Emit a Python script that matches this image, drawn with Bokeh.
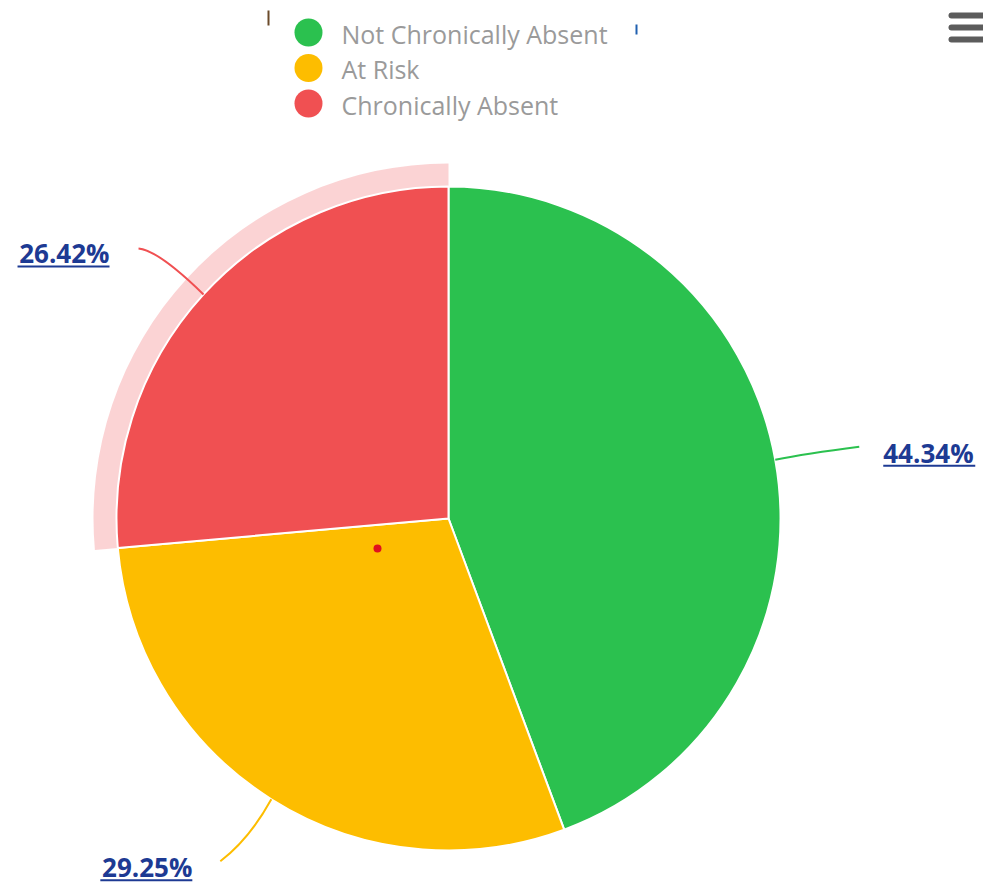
import math
from bokeh.plotting import figure
from bokeh.models import Range1d
from bokeh.core.properties import value
from bokeh.embed import file_html
from bokeh.resources import INLINE

# ---- data ----
categories = ["Not Chronically Absent", "At Risk", "Chronically Absent"]
percents = [44.34, 29.25, 26.42]
labels = ["44.34%", "29.25%", "26.42%"]
colors = ["#2BC14F", "#FDBD00", "#F05052"]

# ---- layout (screen px; page = 983 x 885) ----
W, H = 983, 885
CX, CY, R = 448, 518, 332
HALO = 23

def Y(s):
    return H - s

p = figure(width=W, height=H, output_backend="svg", toolbar_location=None,
           x_range=Range1d(0, W), y_range=Range1d(0, H),
           x_axis_location=None, y_axis_location=None, min_border=0)
p.grid.visible = False
p.outline_line_color = None
p.background_fill_color = "white"
p.border_fill_color = "white"

total = sum(percents)
cum = 0.0
mids = []
for i, (pct, col) in enumerate(zip(percents, colors)):
    t0 = cum / total * 360.0
    t1 = (cum + pct) / total * 360.0
    cum += pct
    mids.append(math.radians((t0 + t1) / 2))
    start = math.radians(90 - t1)
    end = math.radians(90 - t0)
    if i == 2:  # hover halo on Chronically Absent
        p.annular_wedge(x=CX, y=Y(CY), inner_radius=R, outer_radius=R + HALO,
                        start_angle=start, end_angle=end, fill_color=col,
                        fill_alpha=0.25, line_color=None)
    p.wedge(x=CX, y=Y(CY), radius=R, start_angle=start, end_angle=end,
            fill_color=col, line_color="white", line_width=2)

# connectors and data labels
# (end offset from edge point, control offset, label offset from end, align, text width)
lab_layout = [
    ((84, -13), (30, -6), (24, 6), "left", 92),
    ((-51, 62), (-22, 40), (-28, 6), "right", 92),
    ((-65, -46), (-45, -44), (-29, 5), "right", 92),
]
lab_color = "#1D3A93"
for i, th in enumerate(mids):
    ex = CX + R * math.sin(th)
    ey = CY - R * math.cos(th)
    (dx, dy), (cx, cy), (lx, ly), align, tw = lab_layout[i]
    x1, y1 = ex + dx, ey + dy
    p.quadratic(x0=ex, y0=Y(ey), x1=x1, y1=Y(y1), cx=ex + cx, cy=Y(ey + cy),
                line_color=colors[i], line_width=2)
    tx, ty = x1 + lx, y1 + ly
    p.text(x=[tx], y=[Y(ty)], text=[labels[i]], text_font=value("Open Sans"),
           text_font_style="bold", text_font_size="26px", text_color=lab_color,
           text_align=align, text_baseline="middle")
    ux0 = tx if align == "left" else tx - tw
    p.segment(x0=[ux0], y0=[Y(ty + 13)], x1=[ux0 + tw], y1=[Y(ty + 13)],
              line_color=lab_color, line_width=2)

# legend
LX, LY0, LDY = 308, 32, 35.5
for i, (cat, col) in enumerate(zip(categories, colors)):
    yy = LY0 + i * LDY
    p.scatter(x=[LX], y=[Y(yy)], size=28, marker="circle", fill_color=col, line_color=None)
    p.text(x=[LX + 33], y=[Y(yy + 1)], text=[cat], text_font=value("Open Sans"),
           text_font_size="25px", text_color="#9A9A9A", text_baseline="middle")

# hamburger menu
for yy in [15, 27, 39]:
    p.line(x=[951, 995], y=[Y(yy), Y(yy)], line_color="#5C5C5C", line_width=6,
           line_cap="round")

# small artifacts
p.segment(x0=[268], y0=[Y(10)], x1=[268], y1=[Y(25)], line_color="#6B4A2A", line_width=2)
p.segment(x0=[636], y0=[Y(24)], x1=[636], y1=[Y(34)], line_color="#2060B0", line_width=2)

# hover marker dot
p.scatter(x=[377], y=[Y(548)], size=8, marker="circle", fill_color="#E0101E", line_color=None)

open("out.html", "w").write(file_html(p, INLINE))
